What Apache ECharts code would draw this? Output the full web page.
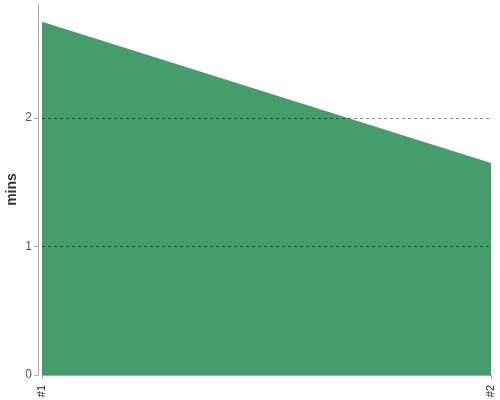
<!DOCTYPE html>
<html>
<head>
<meta charset="utf-8">
<script src="https://cdn.jsdelivr.net/npm/echarts@6/dist/echarts.min.js"></script>
<style>
  html, body { margin: 0; padding: 0; background: #fff; }
  #chart { width: 500px; height: 400px; }
</style>
</head>
<body>
<div id="chart"></div>
<script>
// data
var categories = ['#1', '#2'];
var minsValues = [2.75, 1.65];
var yTicks = [0, 1, 2];

var myChart = echarts.init(document.getElementById('chart'));

var option = {
    animation: false,
    grid: {
        left: 42,
        right: 9,
        top: 4,
        bottom: 25,
        containLabel: false,
        outerBoundsMode: 'none'
    },
    xAxis: {
        type: 'category',
        boundaryGap: false,
        data: categories,
        offset: 5,
        axisLine: { lineStyle: { color: '#aaa', width: 1 } },
        axisTick: { show: true, length: 4, lineStyle: { color: '#aaa' } },
        axisLabel: {
            rotate: 90,
            fontSize: 11,
            color: '#222',
            fontFamily: 'Liberation Sans, Arial, sans-serif',
            margin: 5
        },
        splitLine: { show: false }
    },
    yAxis: {
        type: 'value',
        min: 0,
        max: 2.8875,
        interval: 1,
        offset: 4,
        name: 'mins',
        nameLocation: 'middle',
        nameGap: 19,
        nameMoveOverlap: false,
        nameRotate: 90,
        nameTextStyle: {
            fontSize: 14,
            fontWeight: 'bold',
            color: '#333',
            fontFamily: 'Liberation Sans, Arial, sans-serif'
        },
        axisLine: { show: true, lineStyle: { color: '#aaa', width: 1 } },
        axisTick: { show: true, length: 4, lineStyle: { color: '#aaa' } },
        axisLabel: {
            fontSize: 12,
            color: '#555',
            fontFamily: 'Liberation Sans, Arial, sans-serif',
            margin: 6,
            showMaxLabel: false
        },
        splitLine: { show: false }
    },
    series: [
        {
            name: 'mins',
            type: 'line',
            data: minsValues,
            symbol: 'none',
            lineStyle: { width: 0 },
            areaStyle: { color: '#459d6c', opacity: 1 },
            markLine: {
                silent: true,
                symbol: 'none',
                label: { show: false },
                lineStyle: { color: '#000', opacity: 0.45, type: [3, 3], width: 1 },
                data: yTicks.slice(1).map(function (v) { return { yAxis: v }; })
            }
        }
    ]
};

myChart.setOption(option);
</script>
</body>
</html>
